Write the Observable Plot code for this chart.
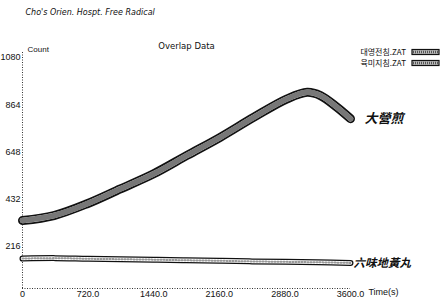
<!DOCTYPE html>
<html>
<head>
<meta charset="utf-8">
<script src="https://cdn.jsdelivr.net/npm/d3@7"></script>
<script src="https://cdn.jsdelivr.net/npm/@observablehq/plot@0.6"></script>
<style>
  html, body { margin: 0; padding: 0; background: #fff; }
  svg { display: block; }
</style>
</head>
<body>
<div id="chart"></div>
<script>
// ---- data ----
const seriesNames = ["대영전침.ZAT", "육미지침.ZAT"];
const curveLabels = ["大營煎", "六味地黃丸"];

const time1   = [0, 345, 710, 1075, 1440, 1805, 2170, 2540, 2905, 3125, 3270, 3450, 3600];
const count1  = [311, 334, 388, 456, 525, 609, 692, 784, 868, 898, 883, 830, 777];

const time2   = [0, 360, 720, 1080, 1440, 1800, 2160, 2520, 2880, 3240, 3600];
const count2  = [137, 139, 136, 134, 132, 129, 127, 124, 122, 120, 117];

const xTicks = [0, 720, 1440, 2160, 2880, 3600];
const xTickLabels = ["0", "720.0", "1440.0", "2160.0", "2880.0", "3600.0"];
const yTicks = [216, 432, 648, 864, 1080];

const s1 = time1.map((t, i) => ({t, v: count1[i]}));
const s2 = time2.map((t, i) => ({t, v: count2[i]}));

const font = "Liberation Sans, Arial, sans-serif";

const chart = Plot.plot({
  width: 441,
  height: 305,
  marginLeft: 22,
  marginRight: 91,
  marginTop: 52,
  marginBottom: 17,
  x: {domain: [0, 3600], axis: null},
  y: {domain: [0, 1080], axis: null},
  style: {fontFamily: font, background: "#fff"},
  marks: [
    // dotted axes
    Plot.ruleX([0], {stroke: "#333", strokeDasharray: "1,1.5", strokeWidth: 1}),
    Plot.ruleY([0], {stroke: "#333", strokeDasharray: "1,1.5", strokeWidth: 1}),
    // tick labels
    Plot.text(yTicks, {x: 0, y: d => d, text: d => String(d), textAnchor: "end", dx: -2, dy: 5, fontSize: 9, fill: "#111"}),
    Plot.text(xTicks, {x: d => d, y: 0, text: (d, i) => xTickLabels[i], dy: 6, fontSize: 9, fill: "#111"}),
    Plot.text(["Time(s)"], {frameAnchor: "bottom-right", dx: 33, dy: 6, fontSize: 9, textAnchor: "middle", fill: "#111"}),
    Plot.text(["Count"], {frameAnchor: "top-left", dx: 5, dy: -6, textAnchor: "start", fontSize: 8, fill: "#111"}),
    Plot.text(["Cho's Orien. Hospt. Free Radical"], {frameAnchor: "top-left", dx: 3, dy: -43, textAnchor: "start", fontSize: 8, fontStyle: "italic", fontFamily: "DejaVu Sans, sans-serif", fill: "#111"}),
    Plot.text(["Overlap Data"], {frameAnchor: "top-left", dx: 164, dy: -10, textAnchor: "middle", fontSize: 8.5, fontFamily: "DejaVu Sans, sans-serif", fill: "#111"}),
    // series 1 band
    Plot.line(s1, {x: "t", y: "v", stroke: "#111", strokeWidth: 9, curve: "catmull-rom"}),
    Plot.line(s1, {x: "t", y: "v", stroke: "#d8d8d8", strokeWidth: 5.5, curve: "catmull-rom"}),
    Plot.line(s1, {x: "t", y: "v", stroke: "#777", strokeWidth: 5.5, strokeDasharray: "1,1", curve: "catmull-rom"}),
    // series 2 band
    Plot.line(s2, {x: "t", y: "v", stroke: "#111", strokeWidth: 6, curve: "catmull-rom"}),
    Plot.line(s2, {x: "t", y: "v", stroke: "#fff", strokeWidth: 3.5, curve: "catmull-rom"}),
    Plot.line(s2, {x: "t", y: "v", stroke: "#999", strokeWidth: 2, strokeDasharray: "1,2", curve: "catmull-rom"}),
    // end labels
    Plot.text([s1[s1.length - 1]], {x: "t", y: "v", text: () => curveLabels[0], dx: 14, textAnchor: "start", fontSize: 13, fontWeight: "bold", fontStyle: "italic", fontFamily: "Noto Sans CJK TC, sans-serif", fill: "#111"}),
    Plot.text([s2[s2.length - 1]], {x: "t", y: "v", text: () => curveLabels[1], dx: 3, textAnchor: "start", fontSize: 11.5, fontWeight: "bold", fontStyle: "italic", fontFamily: "Noto Sans CJK TC, sans-serif", fill: "#111"})
  ]
});

// legend (layout only)
const svg = d3.select(chart);
const lg = svg.append("g").attr("font-family", "Noto Sans CJK KR, sans-serif").attr("font-size", 8);
seriesNames.forEach((name, i) => {
  const yy = 52 + i * 11;
  lg.append("text").attr("x", 406).attr("y", yy).attr("text-anchor", "end").attr("dy", "0.35em").attr("fill", "#111").text(name);
  lg.append("rect").attr("x", 412).attr("y", yy - 2.5).attr("width", 27).attr("height", 5).attr("fill", "#bbb").attr("stroke", "#111").attr("stroke-width", 1.2);
  lg.append("line").attr("x1", 413).attr("x2", 438).attr("y1", yy).attr("y2", yy).attr("stroke", "#555").attr("stroke-dasharray", "1,1").attr("stroke-width", 2.5);
});

document.getElementById("chart").appendChild(chart);
</script>
</body>
</html>
